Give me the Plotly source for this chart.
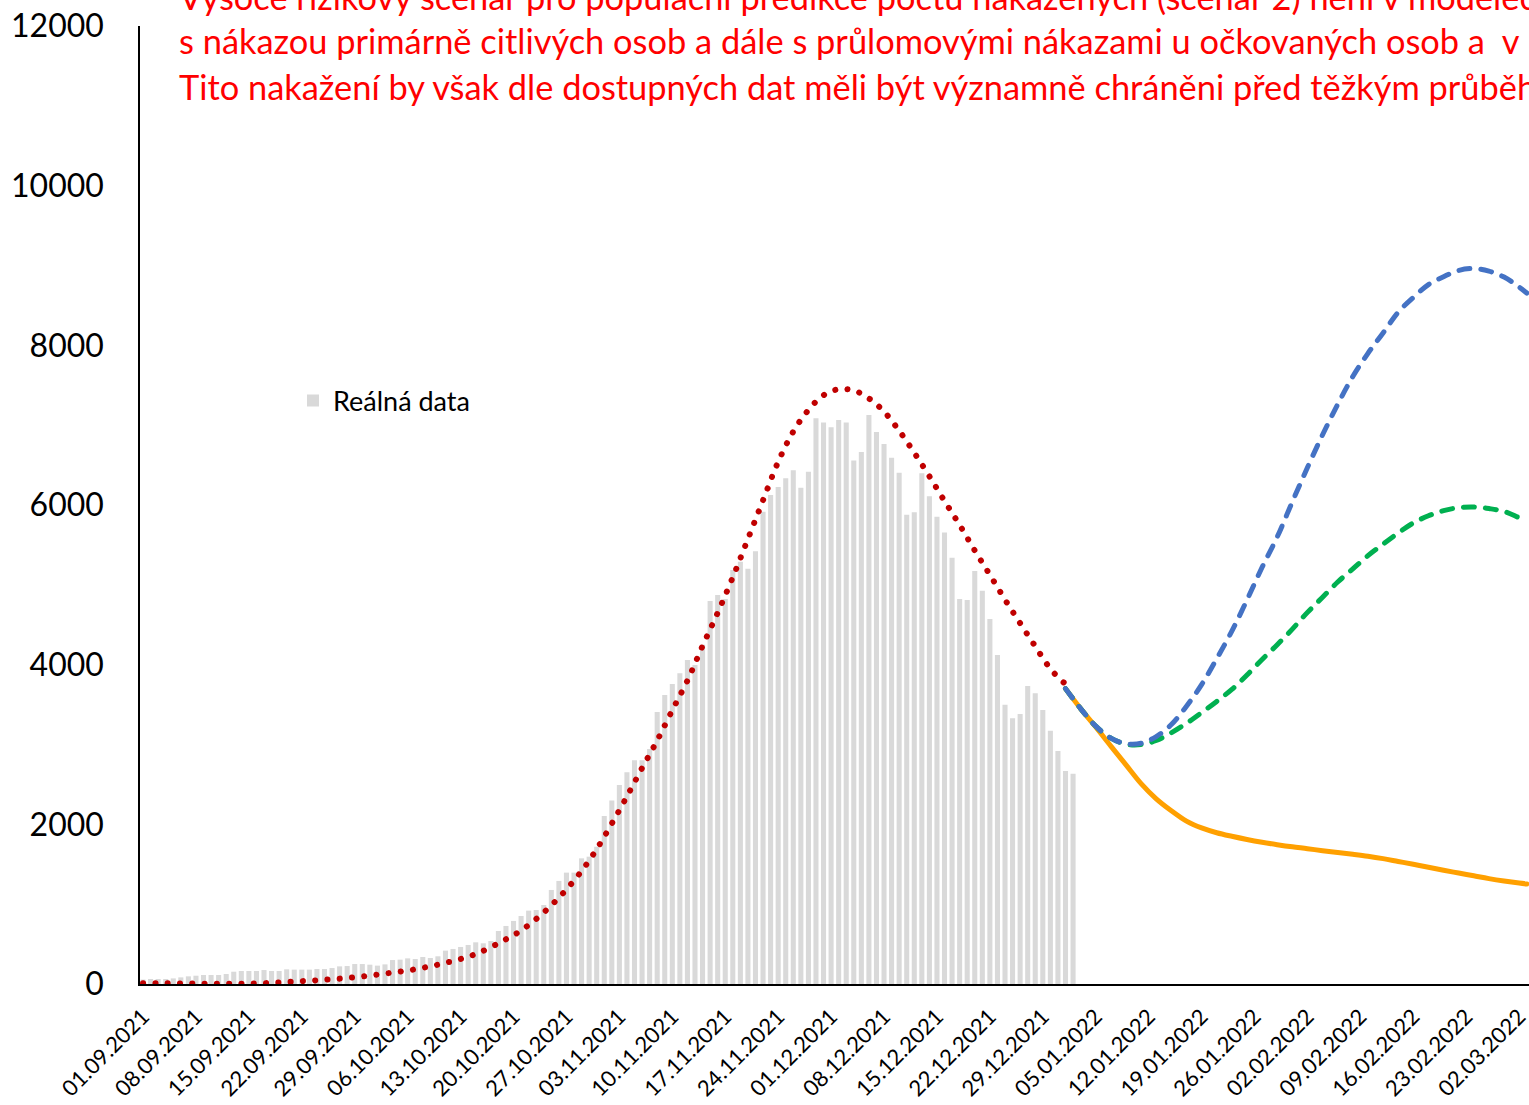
import pandas as pd
import plotly.graph_objects as go

START = pd.Timestamp("2021-09-01")

# Daily real data (gray bars), 01.09.2021 .. 02.01.2022
real_values = [55, 63, 63, 63, 70, 83, 96, 104, 113, 113, 113, 125, 154, 163, 163, 163, 175, 163, 163, 184,
               180, 180, 180, 188, 188, 200, 221, 225, 250, 250, 242, 230, 246, 300, 305, 321, 313, 338, 326, 347,
               418, 439, 464, 489, 522, 510, 539, 664, 727, 790, 852, 919, 927, 990, 1178, 1291, 1395, 1395, 1574, 1595,
               1720, 2105, 2297, 2493, 2652, 2803, 2803, 2944, 3408, 3621, 3759, 3893, 4060, 3997, 4250, 4798, 4873, 4823, 5186, 5290,
               5203, 5420, 5917, 6126, 6226, 6335, 6435, 6215, 6418, 7086, 7032, 6973, 7065, 7032, 6556, 6664, 7128, 6915, 6765, 6593,
               6405, 5879, 5909, 6397, 6109, 5854, 5654, 5340, 4823, 4810, 5174, 4927, 4572, 4121, 3499, 3328, 3382, 3733, 3641, 3432,
               3173, 2919, 2668, 2635]

# Fitted curve (red dotted), day offsets from 01.09.2021
fit_days = [0, 4, 8, 12, 16, 20, 24, 28, 32, 36, 40, 44, 48, 50, 52, 54, 56, 58, 60, 62, 64, 66, 68, 70, 72, 74, 76, 78,
            80, 82, 84, 86, 88, 90, 92, 94, 96, 98, 100, 102, 104, 106, 108, 110, 112, 114, 116, 118, 120, 122, 123]
fit_values = [10, 8, 3, 2, 10, 30, 53, 84, 130, 185, 265, 375, 560, 670, 815, 985, 1185, 1415, 1690, 2010, 2350, 2705,
              3050, 3430, 3800, 4235, 4650, 5095, 5575, 6060, 6540, 6920, 7190, 7375, 7450, 7435, 7335, 7170, 6930, 6655,
              6360, 6050, 5750, 5430, 5125, 4815, 4520, 4230, 3950, 3760, 3715]

# Projections, day offsets from 01.09.2021
proj_days = [122, 124, 126, 128, 130, 132, 134, 136, 138, 140, 142, 144, 146, 148, 150, 152, 154, 156, 158, 160,
             162, 164, 166, 168, 170, 172, 174, 176, 178, 180, 182, 183]
blue_values = [3700, 3450, 3230, 3080, 3010, 3015, 3100, 3250, 3480, 3750, 4075, 4420, 4810, 5220, 5600, 6040,
               6470, 6880, 7260, 7610, 7900, 8155, 8415, 8600, 8760, 8860, 8938, 8962, 8930, 8855, 8730, 8655]
green_values = [3700, 3450, 3230, 3080, 3005, 3000, 3050, 3147, 3265, 3400, 3540, 3690, 3870, 4065, 4250, 4445,
                4655, 4845, 5035, 5200, 5365, 5510, 5650, 5775, 5865, 5930, 5966, 5975, 5955, 5920, 5840, 5800]
orange_values = [3700, 3450, 3220, 2980, 2745, 2510, 2320, 2170, 2040, 1955, 1895, 1850, 1810, 1775, 1745, 1718,
                 1695, 1670, 1648, 1625, 1600, 1570, 1535, 1500, 1462, 1425, 1390, 1355, 1320, 1290, 1264, 1253]

tick_labels = ["01.09.2021", "08.09.2021", "15.09.2021", "22.09.2021", "29.09.2021", "06.10.2021", "13.10.2021",
               "20.10.2021", "27.10.2021", "03.11.2021", "10.11.2021", "17.11.2021", "24.11.2021", "01.12.2021",
               "08.12.2021", "15.12.2021", "22.12.2021", "29.12.2021", "05.01.2022", "12.01.2022", "19.01.2022",
               "26.01.2022", "02.02.2022", "09.02.2022", "16.02.2022", "23.02.2022", "02.03.2022"]

title_lines = [
    "Vysoce rizikový scénář pro populační predikce počtu nakažených (scénář 2) není v modelech",
    "s nákazou primárně citlivých osob a dále s průlomovými nákazami u očkovaných osob a  v",
    "Tito nakažení by však dle dostupných dat měli být významně chráněni před těžkým průběhem",
]

real_dates = pd.date_range(START, periods=len(real_values), freq="D")
fit_dates = [START + pd.Timedelta(days=d) for d in fit_days]
proj_dates = [START + pd.Timedelta(days=d) for d in proj_days]
tick_dates = [pd.to_datetime(t, format="%d.%m.%Y") for t in tick_labels]

fig = go.Figure()
fig.add_trace(go.Bar(x=real_dates, y=real_values, name="Reálná data",
                     marker=dict(color="#D9D9D9", line=dict(width=0)), showlegend=True))
fig.add_trace(go.Scatter(x=fit_dates, y=fit_values, mode="lines", line_shape="spline",
                         line=dict(color="#C00000", width=6, dash="0.1px,12.2px"), showlegend=False))
fig.add_trace(go.Scatter(x=proj_dates, y=orange_values, mode="lines", line_shape="spline",
                         line=dict(color="#FFA000", width=5), showlegend=False))
fig.add_trace(go.Scatter(x=proj_dates, y=green_values, mode="lines", line_shape="spline",
                         line=dict(color="#00B050", width=5, dash="11px,11px"), showlegend=False))
fig.add_trace(go.Scatter(x=proj_dates, y=blue_values, mode="lines", line_shape="spline",
                         line=dict(color="#4472C4", width=5, dash="11px,11px"), showlegend=False))

PLOT_L, PLOT_T, PLOT_B, W, H = 140, 26, 984, 1529, 1105

def px_x(px):
    return (px - PLOT_L) / (W - PLOT_L)

def px_y(py):
    return (PLOT_B - py) / (PLOT_B - PLOT_T)

for line, py in zip(title_lines, [-4, 41, 86]):
    fig.add_annotation(text=line, xref="paper", yref="paper", x=px_x(177), y=px_y(py),
                       xanchor="left", yanchor="middle", showarrow=False,
                       font=dict(family="Lato", size=34.4, color="#FF0000"))

fig.update_layout(
    width=W, height=H,
    margin=dict(l=PLOT_L, r=0, t=PLOT_T, b=H - PLOT_B, pad=0, autoexpand=False),
    plot_bgcolor="white", paper_bgcolor="white",
    bargap=0.33,
    font=dict(family="Lato", color="black"),
    xaxis=dict(type="date", range=["2021-08-31 14:24", "2022-03-03 07:12"], automargin=False,
               tickmode="array", tickvals=tick_dates, ticktext=tick_labels, tickangle=-45,
               ticklabeloverflow="allow",
               tickfont=dict(size=22, color="black"), showline=True, linecolor="black", linewidth=2,
               showgrid=False, zeroline=False, ticks="", ticklabelstandoff=9),
    yaxis=dict(range=[0, 12000], tickmode="linear", tick0=0, dtick=2000, tickformat="d", automargin=False,
               tickfont=dict(size=32, color="black"), showline=True, linecolor="black", linewidth=1.5,
               showgrid=False, zeroline=False, ticks="", ticklabelstandoff=28),
    legend=dict(x=px_x(293), y=px_y(401), xanchor="left", yanchor="middle",
                font=dict(size=27, color="black"), bgcolor="rgba(0,0,0,0)"),
)

post = """
document.documentElement.style.margin = '0';
document.documentElement.style.padding = '0';
document.body.style.margin = '0';
document.body.style.padding = '0';
document.body.style.overflow = 'hidden';
var gd = document.getElementById('{plot_id}');
function fixCaps(){
  gd.querySelectorAll('path.js-line').forEach(function(p){
    p.style.strokeLinecap = 'round';
    p.style.strokeLinejoin = 'round';
  });
}
fixCaps();
setTimeout(fixCaps, 50);
setTimeout(fixCaps, 300);
if (gd.on) { gd.on('plotly_afterplot', fixCaps); }
"""

fig.write_html("out.html", post_script=post, config={"displayModeBar": False})
